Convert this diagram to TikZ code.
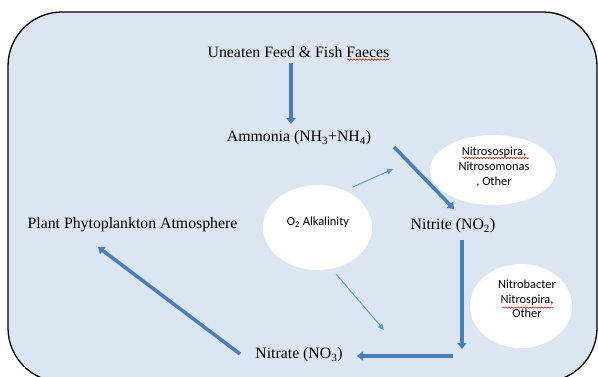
\documentclass[tikz,border=0pt]{standalone}
\usepackage{fontspec}
\setmainfont{Liberation Serif}
\newfontfamily\bubblefont{Carlito}
\usetikzlibrary{arrows.meta,shapes.geometric,decorations.pathmorphing}

\definecolor{tankfill}{HTML}{DCE6F2}
\definecolor{flowblue}{HTML}{4A7EBB}
\definecolor{thinblue}{HTML}{5B9BD5}

\tikzset{
  label text/.style={inner sep=0pt, font=\fontsize{15.8}{19}\selectfont},
  bubble/.style={ellipse, fill=white, draw=none, inner sep=0pt},
  bubble text/.style={inner sep=0pt, align=center, font=\bubblefont\fontsize{12.4}{14.6}\selectfont},
  flow/.style={line width=3.5pt, flowblue, -{Triangle[length=6pt,width=9pt]}},
  hint/.style={line width=0.9pt, thinblue, -{Triangle[length=6pt,width=5.5pt]}},
  squiggle/.style={red!85!black, line width=0.5pt, decorate,
    decoration={snake, segment length=3pt, amplitude=0.7pt}}
}

\begin{document}
\begin{tikzpicture}[x=1pt,y=-1pt]
  \useasboundingbox (0,0) rectangle (598,376);

  % Tank outline
  \draw[fill=tankfill, line width=1.3pt, rounded corners=54pt] (8,12) rectangle (597,382);

  % White bubbles
  \node[bubble, minimum width=126pt, minimum height=70pt] (nsbub) at (493,170) {};
  \node[bubble, minimum width=109pt, minimum height=85pt] (oxbub) at (317.5,227.5) {};
  \node[bubble, minimum width=102pt, minimum height=84pt] (nbbub) at (521,306) {};

  % Labels
  \node[label text] (feed) at (298.5,52) {Uneaten Feed \& Fish Faeces};
  \node[label text] (ammonia) at (299,138) {Ammonia (NH\textsubscript{3}+NH\textsubscript{4})};
  \node[label text] (nitrite) at (453,226) {Nitrite (NO\textsubscript{2})};
  \node[label text] (nitrate) at (299,355) {Nitrate (NO\textsubscript{3})};
  \node[label text] (plant) at (132.5,225) {Plant Phytoplankton Atmosphere};
  \node[bubble text] (nstext) at (494,167) {Nitrosospira,\\Nitrosomonas\\, Other};
  \node[bubble text] (oxtext) at (318,222) {O\textsubscript{2} Alkalinity};
  \node[bubble text] (nbtext) at (527,299) {Nitrobacter\\Nitrospira,\\Other};

  % Arrow ends
  \coordinate (a1) at (291,63);   \coordinate (a2) at (291,124);
  \coordinate (b1) at (394,147);  \coordinate (b2) at (454,209);
  \coordinate (c1) at (462,240);  \coordinate (c2) at (462,349);
  \coordinate (d1) at (453,356);  \coordinate (d2) at (357,356);
  \coordinate (e1) at (240,354);  \coordinate (e2) at (98,247);
  \coordinate (h1) at (353,187);  \coordinate (h2) at (393,169);
  \coordinate (k1) at (336,274);  \coordinate (k2) at (384,330);

  % Nitrogen cycle
  \draw[flow] (a1) -- (a2);
  \draw[flow] (b1) -- (b2);
  \draw[flow] (c1) -- (c2);
  \draw[flow] (d1) -- (d2);
  \draw[flow] (e1) -- (e2);
  \draw[hint] (h1) -- (h2);
  \draw[hint] (k1) -- (k2);

  % Spell-check marks
  \draw[squiggle] (347,59.5) -- (389,59.5);
  \draw[squiggle] (462,158) -- (529,158);
  \draw[squiggle] (502,307.5) -- (553,307.5);
\end{tikzpicture}
\end{document}
